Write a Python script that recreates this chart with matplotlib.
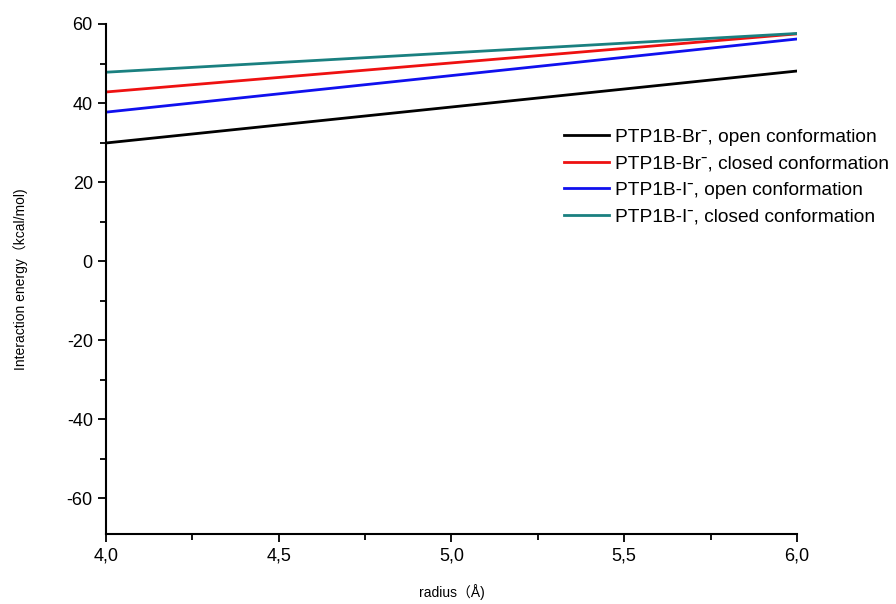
import matplotlib
matplotlib.use("Agg")
import matplotlib.pyplot as plt
from matplotlib.ticker import MultipleLocator, FuncFormatter

plt.rcParams['font.family'] = ['Liberation Sans', 'Noto Sans CJK SC', 'DejaVu Sans']

radius = [4.0, 6.0]
br_open = [29.9, 48.1]
br_closed = [42.8, 57.5]
i_open = [37.7, 56.2]
i_closed = [47.8, 57.6]

labels = [
    'PTP1B-Br\u02c9, open conformation',
    'PTP1B-Br\u02c9, closed conformation',
    'PTP1B-I\u02c9, open conformation',
    'PTP1B-I\u02c9, closed conformation',
]
colors = ['#000000', '#ee1111', '#1010ee', '#1a8080']

fig = plt.figure(figsize=(8.96, 6.04), dpi=100)
ax = fig.add_axes([0.1183, 0.1159, 0.7712, 0.8444])

for ys, c, lab in zip([br_open, br_closed, i_open, i_closed], colors, labels):
    ax.plot(radius, ys, color=c, lw=2, label=lab)

ax.set_xlim(4.0, 6.0)
ax.set_ylim(-69, 60)
ax.xaxis.set_major_locator(MultipleLocator(0.5))
ax.xaxis.set_minor_locator(MultipleLocator(0.25))
ax.yaxis.set_major_locator(MultipleLocator(20))
ax.yaxis.set_minor_locator(MultipleLocator(10))
ax.xaxis.set_major_formatter(FuncFormatter(lambda v, p: f'{v:.1f}'.replace('.', ',')))
ax.yaxis.set_major_formatter(FuncFormatter(lambda v, p: f'{v:.0f}'))

for s in ['top', 'right']:
    ax.spines[s].set_visible(False)
for s in ['left', 'bottom']:
    ax.spines[s].set_linewidth(1.5)
ax.tick_params(which='major', direction='out', length=6, width=1.3, labelsize=13)
ax.tick_params(which='minor', direction='out', length=4, width=1.3)

ax.set_xlabel('radius（Å)', fontsize=10, labelpad=14)
ax.set_ylabel('Interaction energy（kcal/mol)', fontsize=10, labelpad=28)

ax.legend(loc='upper left', bbox_to_anchor=(0.652, 0.81), frameon=False,
          fontsize=13.8, handlelength=2.35, handletextpad=0.3, labelspacing=0.48,
          borderaxespad=0)

fig.savefig('out.png', dpi=100)
